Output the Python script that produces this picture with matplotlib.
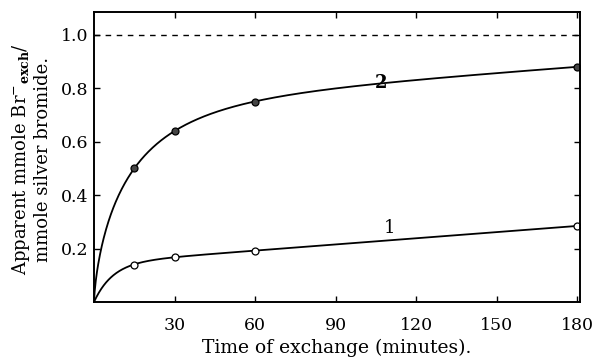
import numpy as np
import matplotlib
matplotlib.use('Agg')
import matplotlib.pyplot as plt

# Data
time_min = [15, 30, 60, 180]
series_2 = [0.50, 0.64, 0.75, 0.88]
series_1 = [0.14, 0.17, 0.19, 0.285]
x_ticks = [30, 60, 90, 120, 150, 180]
y_ticks = [0.2, 0.4, 0.6, 0.8, 1.0]


def fit_curve(t, y):
    # smooth guide curve through the origin:
    # y = a*(1 - exp(-(t/b)**p)) + c*t ; grid over b, p and lstsq for a, c
    t = np.array([0.0] + list(t))
    y = np.array([0.0] + list(y))
    best = None
    for b in np.linspace(1, 60, 120):
        for p in np.linspace(0.4, 1.0, 31):
            A = np.column_stack([1 - np.exp(-(t / b) ** p), t])
            coef = np.linalg.lstsq(A, y, rcond=None)[0]
            err = np.sum((A @ coef - y) ** 2)
            if best is None or err < best[0]:
                best = (err, b, p, coef)
    _, b, p, (a, c) = best
    return lambda tt: a * (1 - np.exp(-(tt / b) ** p)) + c * tt


plt.rcParams['font.family'] = 'DejaVu Serif'
plt.rcParams['mathtext.fontset'] = 'dejavuserif'

fig = plt.figure(figsize=(5.93, 3.63), dpi=100)
ax = fig.add_axes([94 / 593, 61 / 363, 486 / 593, 290 / 363])

tt = np.linspace(0, 180, 800)
f2 = fit_curve(time_min, series_2)
f1 = fit_curve(time_min, series_1)
ax.plot(tt, f2(tt), color='black', lw=1.3)
ax.plot(tt, f1(tt), color='black', lw=1.3)

ax.plot(time_min, series_2, 'o', ms=5, mfc='#444444', mec='black', mew=0.9)
ax.plot(time_min, series_1, 'o', ms=5, mfc='white', mec='black', mew=0.9)

ax.axhline(1.0, color='black', lw=1.0, ls=(0, (4, 4)))

ax.text(107, 0.82, '2', fontsize=13, fontweight='bold', ha='center', va='center')
ax.text(110, 0.275, '1', fontsize=13, ha='center', va='center')

ax.set_xlim(0, 181)
ax.set_ylim(0, 1.085)
ax.set_xticks(x_ticks)
ax.set_yticks(y_ticks)
ax.set_xticklabels([str(v) for v in x_ticks])
ax.set_yticklabels(['%.1f' % v for v in y_ticks])
ax.tick_params(direction='in', length=4, width=1, labelsize=12.5,
               top=True, right=True)
ax.tick_params(axis='x', pad=11)
ax.tick_params(axis='y', pad=4)
for s in ax.spines.values():
    s.set_linewidth(1.4)

ax.set_xlabel('Time of exchange (minutes).', fontsize=13.5, labelpad=3)

# two-line y label, placed line by line so the subscript does not push lines apart
fig.text(21 / 593, 1 - 159 / 363, 'Apparent mmole Br$^{-}$$_{\\mathbf{exch}}$/',
         rotation=90, fontsize=13, ha='center', va='center')
fig.text(43 / 593, 1 - 159 / 363, 'mmole silver bromide.',
         rotation=90, fontsize=13, ha='center', va='center')

fig.savefig('out.png', dpi=100)
